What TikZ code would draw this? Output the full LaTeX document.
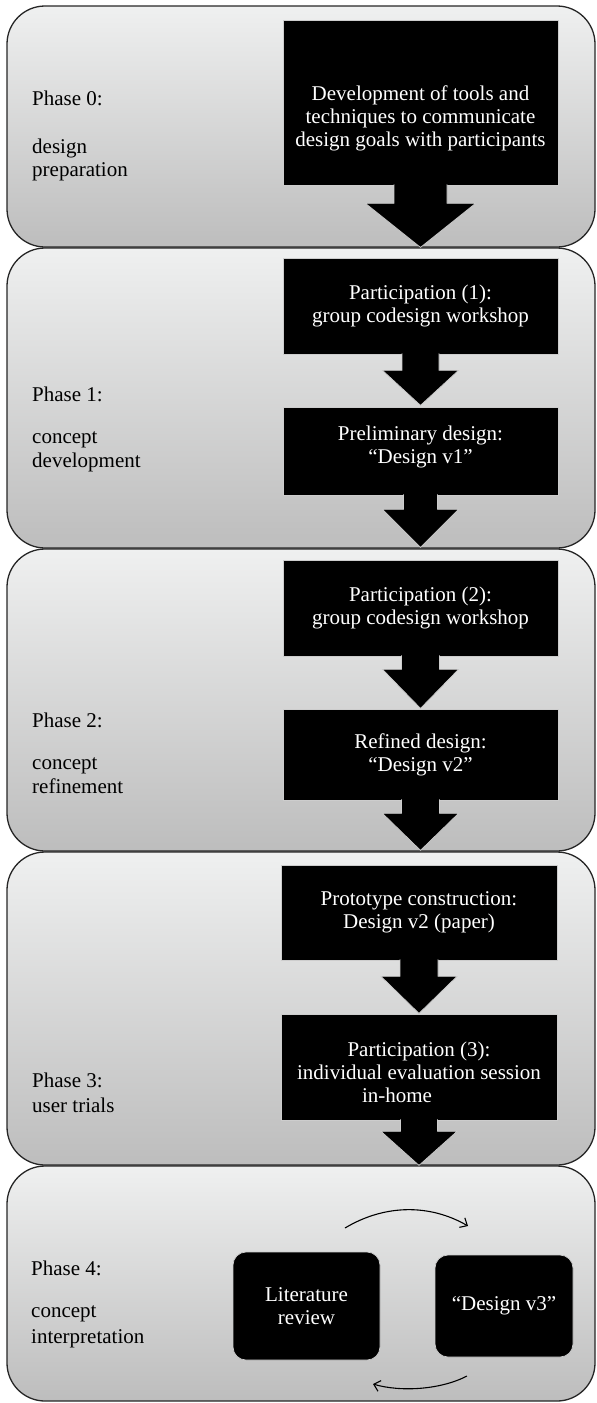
\documentclass[tikz,border=0pt]{standalone}
\usepackage{fontspec}
\setmainfont{Liberation Serif}
\usetikzlibrary{calc,arrows.meta}
\definecolor{pantop}{RGB}{239,240,240}
\definecolor{panbot}{RGB}{189,189,189}
\definecolor{edgegray}{RGB}{205,205,205}
\newcommand\blockarr[5]{%
  \draw[blockarrow] ($(#1.south)+(-#2,-1)$) -- ++(0,#4+1) -- ++(-#3+#2,0)
    -- ++(#3,#5) -- ++(#3,-#5) -- ++(-#3+#2,0) -- ++(0,-#4-1);}
\begin{document}
\begin{tikzpicture}[x=1pt,y=-1pt,
  panel/.style={draw=black!85, line width=1.3pt, rounded corners=38pt,
    top color=pantop, bottom color=panbot, inner sep=0pt, minimum width=588pt},
  blackbox/.style={fill=black, draw=edgegray, line width=0.7pt, text=white,
    align=center, inner sep=0pt, font=\fontsize{21}{23}\selectfont},
  boxtext/.style={text=white, align=center, inner sep=0pt, font=\fontsize{21}{23}\selectfont},
  roundbox/.style={blackbox, rounded corners=13pt},
  blockarrow/.style={fill=black, draw=edgegray, line width=0.7pt},
  lbl/.style={anchor=base west, inner sep=0pt, font=\fontsize{21}{23}\selectfont},
  curvearrow/.style={line width=1.1pt, -{Straight Barb[length=6pt,width=11pt]}}
]
\useasboundingbox (0,0) rectangle (597,1403);
% panels
\node[panel, minimum height=241pt] (p0) at (301,126.5) {};
\node[panel, minimum height=300pt] (p1) at (301,398) {};
\node[panel, minimum height=302pt] (p2) at (301,700) {};
\node[panel, minimum height=313pt] (p3) at (301,1008.5) {};
\node[panel, minimum height=235pt] (p4) at (301,1283.5) {};
% phase labels
\node[lbl] (l0a) at (32,105) {Phase 0:};
\node[lbl] (l0b) at (32,153) {design};
\node[lbl] (l0c) at (32,176) {preparation};
\node[lbl] (l1a) at (32,401) {Phase 1:};
\node[lbl] (l1b) at (32,443) {concept};
\node[lbl] (l1c) at (32,467) {development};
\node[lbl] (l2a) at (32,727) {Phase 2:};
\node[lbl] (l2b) at (32,769) {concept};
\node[lbl] (l2c) at (32,793) {refinement};
\node[lbl] (l3a) at (32,1087) {Phase 3:};
\node[lbl] (l3b) at (32,1112) {user trials};
\node[lbl] (l4a) at (31,1275) {Phase 4:};
\node[lbl] (l4b) at (31,1317) {concept};
\node[lbl] (l4c) at (31,1343) {interpretation};
% phase 0
\node[blackbox, minimum width=275pt, minimum height=165pt] (b0) at (420.5,102.5) {};
\node[boxtext] (b0t) at (420.5,118)
  {Development of tools and\\techniques to communicate\\design goals with participants};
\blockarr{b0}{26.5}{55}{18}{44}
% phase 1
\node[blackbox, minimum width=275pt, minimum height=96pt] (b1) at (420.5,306)
  {Participation (1):\\group codesign workshop};
\node[blackbox, minimum width=275pt, minimum height=88pt] (b2) at (420.5,451) {};
\node[boxtext] (b2t) at (420.5,447) {Preliminary design:\\“Design v1”};
\blockarr{b1}{18.5}{38}{16}{35}
\blockarr{b2}{17}{38}{14}{38}
% phase 2
\node[blackbox, minimum width=275pt, minimum height=96pt] (b3) at (420.5,608)
  {Participation (2):\\group codesign workshop};
\node[blackbox, minimum width=275pt, minimum height=91pt] (b4) at (420.5,754.5)
  {Refined design:\\“Design v2”};
\blockarr{b3}{19}{38}{13}{39}
\blockarr{b4}{19}{38}{13}{37}
% phase 3
\node[blackbox, minimum width=276pt, minimum height=95pt] (b5) at (419,912.5)
  {Prototype construction:\\Design v2 (paper)};
\node[blackbox, minimum width=276pt, minimum height=106pt] (b6) at (419,1067) {};
\node[boxtext] (b6t) at (419,1072)
  {Participation (3):\\individual evaluation session\\in-home\hspace{44pt}\mbox{}};
\blockarr{b5}{19}{38}{16}{37}
\blockarr{b6}{18.5}{38}{11}{34}
% phase 4
\node[roundbox, minimum width=147pt, minimum height=108pt] (lit) at (306.5,1306)
  {Literature\\review};
\node[roundbox, minimum width=138pt, minimum height=102pt] (dv3) at (504,1306)
  {“Design v3”};
\coordinate (t1) at (345,1228);
\coordinate (t2) at (468,1226);
\coordinate (u1) at (467,1376);
\coordinate (u2) at (373,1384);
\draw[curvearrow] (t1) .. controls (385,1204) and (430,1204) .. (t2);
\draw[curvearrow] (u1) .. controls (440,1390) and (400,1392) .. (u2);
\end{tikzpicture}
\end{document}
